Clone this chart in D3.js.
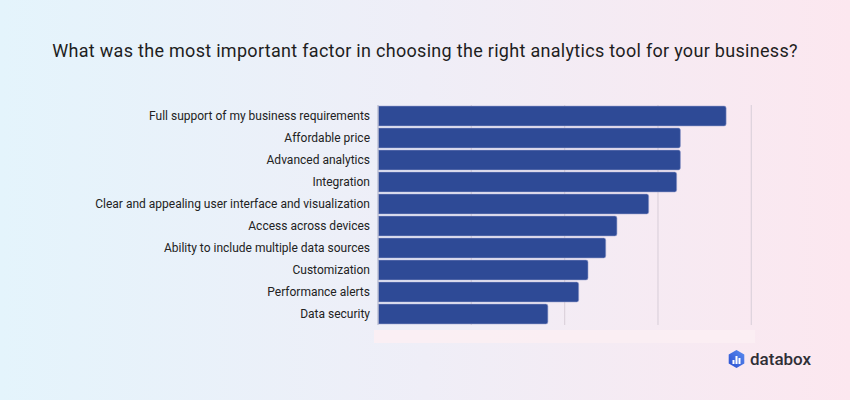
<!DOCTYPE html>
<html><head><meta charset="utf-8">
<script src="https://cdn.jsdelivr.net/npm/d3@7"></script>
<style>
html,body{margin:0;padding:0;}
body{width:850px;height:400px;overflow:hidden;font-family:Roboto,"Noto Sans",sans-serif;}
</style></head>
<body><svg id="chart" width="850" height="400"></svg>
<script>
const title = "What was the most important factor in choosing the right analytics tool for your business?";
const categories = [
  "Full support of my business requirements",
  "Affordable price",
  "Advanced analytics",
  "Integration",
  "Clear and appealing user interface and visualization",
  "Access across devices",
  "Ability to include multiple data sources",
  "Customization",
  "Performance alerts",
  "Data security"
];
const values = [37.3, 32.4, 32.4, 32.0, 29.0, 25.6, 24.4, 22.5, 21.5, 18.2];
const gridTicks = [10, 20, 30, 40];

const svg = d3.select("#chart");
const defs = svg.append("defs");
const bg = defs.append("linearGradient").attr("id","bg").attr("x1","0").attr("x2","1").attr("y1","0").attr("y2","0");
bg.append("stop").attr("offset","0").attr("stop-color","#e4f4fc");
bg.append("stop").attr("offset","0.5").attr("stop-color","#efeef7");
bg.append("stop").attr("offset","1").attr("stop-color","#fce7ef");
const lg = defs.append("linearGradient").attr("id","logo").attr("x1","0").attr("x2","1").attr("y1","1").attr("y2","0");
lg.append("stop").attr("offset","0").attr("stop-color","#2a4fd0");
lg.append("stop").attr("offset","1").attr("stop-color","#5a8cf0");

svg.append("rect").attr("width",850).attr("height",400).attr("fill","url(#bg)");

svg.append("text").attr("x",425).attr("y",57).attr("text-anchor","middle")
  .attr("font-size",18).attr("letter-spacing",0.3).attr("fill","#1e1e1e").text(title);

const x = d3.scaleLinear().domain([0,40]).range([378,751.3]);
const y = d3.scaleBand().domain(categories).range([105,325]).paddingInner(0.1).paddingOuter(0.05);

// faint strip below plot
svg.append("rect").attr("x",374).attr("y",330).attr("width",381).attr("height",13)
  .attr("fill","#fbeef3").attr("opacity",0.9);

// gridlines
svg.append("g").selectAll("line").data(gridTicks).join("line")
  .attr("x1",d=>x(d)).attr("x2",d=>x(d)).attr("y1",105).attr("y2",325)
  .attr("stroke","#dcd2dc").attr("stroke-width",1.2);

// bars with right rounded corners
const r = 2;
svg.append("g").selectAll("path").data(values).join("path")
  .attr("d",(d,i)=>{
    const x0 = x(0)+0.5, x1 = x(d), y0 = y(categories[i]), h = y.bandwidth();
    return `M${x0},${y0}H${x1-r}Q${x1},${y0} ${x1},${y0+r}V${y0+h-r}Q${x1},${y0+h} ${x1-r},${y0+h}H${x0}Z`;
  })
  .attr("fill","#2e4a96").attr("stroke","#8a95c8").attr("stroke-opacity",0.7).attr("stroke-width",0.8);

// axis line
svg.append("line").attr("x1",x(0)).attr("x2",x(0)).attr("y1",105).attr("y2",325)
  .attr("stroke","#a9acc4").attr("stroke-width",1);

// labels
const axis = d3.axisLeft(y).tickSize(0).tickPadding(8);
const ag = svg.append("g").attr("transform",`translate(${x(0)},0)`).call(axis);
ag.select(".domain").remove();
ag.selectAll("text").attr("font-family","Roboto,sans-serif").attr("font-size",12).attr("fill","#222");

// logo
const lgG = svg.append("g").attr("transform","translate(736.5,359)");
const hex = d3.range(6).map(k=>{const a=Math.PI/3*k+Math.PI/6;return [9*Math.cos(a),9*Math.sin(a)];});
lgG.append("path").attr("d","M"+hex.map(p=>p.join(",")).join("L")+"Z").attr("fill","url(#logo)");
[[-4,1,2,4],[-1,-3,2,8],[2,-1,2,6]].forEach(b=>{
  lgG.append("rect").attr("x",b[0]).attr("y",b[1]).attr("width",b[2]).attr("height",b[3]).attr("fill","#fff");
});
svg.append("text").attr("x",750).attr("y",365).attr("font-size",17).attr("font-weight",500)
  .attr("fill","#2f2f36").text("databox");
</script></body></html>
